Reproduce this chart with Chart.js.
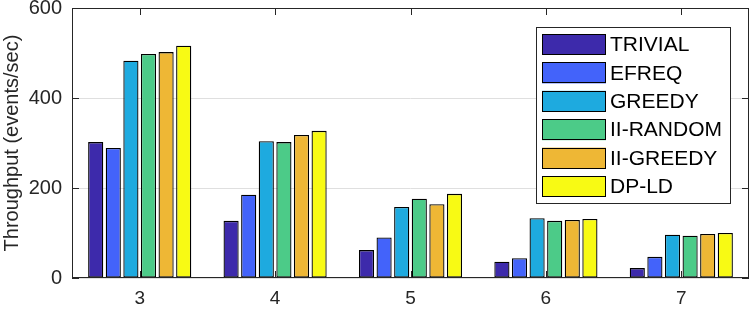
<!DOCTYPE html>
<html>
<head>
<meta charset="utf-8">
<script src="https://cdn.jsdelivr.net/npm/chart.js@4/dist/chart.umd.min.js"></script>
<style>
  html, body { margin: 0; padding: 0; background: #fff; }
  #wrap { width: 751px; height: 310px; }
</style>
</head>
<body>
<div id="wrap"><canvas id="c" width="751" height="310"></canvas></div>
<script>
const categories = ['3', '4', '5', '6', '7'];
const seriesNames = ['TRIVIAL', 'EFREQ', 'GREEDY', 'II-RANDOM', 'II-GREEDY', 'DP-LD'];
const trivial  = [302, 127, 62, 36, 22];
const efreq    = [289, 185, 90, 44, 47];
const greedy   = [483, 304, 158, 133, 96];
const iiRandom = [498, 302, 176, 127, 94];
const iiGreedy = [502, 318, 164, 129, 98];
const dpLd     = [516, 327, 187, 131, 100];
const yTicks = [0, 200, 400, 600];
const colors = ['#3d2aab', '#4363fa', '#1eaadf', '#4ccb88', '#eeb735', '#f8fa14'];

const font = "'Liberation Sans', Arial, sans-serif";
const axisColor = '#262626';

// box, inward ticks and the inside legend, MATLAB style
const framePlugin = {
  id: 'frame',
  afterDatasetsDraw(chart) {
    const { ctx, chartArea: a, scales } = chart;
    ctx.save();
    ctx.strokeStyle = axisColor;
    ctx.lineWidth = 1;
    ctx.strokeRect(a.left + 0.5, a.top + 0.5, a.right - a.left - 1, a.bottom - a.top - 1);
    ctx.beginPath();
    const tl = 7;
    yTicks.forEach(v => {
      const y = Math.round(scales.y.getPixelForValue(v)) + 0.5;
      ctx.moveTo(a.left, y); ctx.lineTo(a.left + tl, y);
      ctx.moveTo(a.right, y); ctx.lineTo(a.right - tl, y);
    });
    categories.forEach((c, i) => {
      const x = Math.round(scales.x.getPixelForValue(i)) + 0.5;
      ctx.moveTo(x, a.bottom); ctx.lineTo(x, a.bottom - tl);
      ctx.moveTo(x, a.top); ctx.lineTo(x, a.top + tl);
    });
    ctx.stroke();

    // legend
    const lx = 536, ly = 27, lw = 194, lh = 176;
    ctx.fillStyle = '#fff';
    ctx.fillRect(lx, ly, lw, lh);
    ctx.strokeStyle = axisColor;
    ctx.strokeRect(lx + 0.5, ly + 0.5, lw, lh);
    ctx.font = '21px ' + font;
    ctx.textBaseline = 'middle';
    chart.data.datasets.forEach((ds, i) => {
      const sy = 34 + i * 28.4;
      ctx.fillStyle = ds.backgroundColor;
      ctx.fillRect(542, sy, 64, 21);
      ctx.strokeStyle = '#000';
      ctx.strokeRect(542.5, Math.round(sy) + 0.5, 63, 20);
      ctx.fillStyle = '#000';
      ctx.fillText(ds.label, 610, sy + 11.5);
    });
    ctx.restore();
  }
};

const seriesData = [trivial, efreq, greedy, iiRandom, iiGreedy, dpLd];

new Chart(document.getElementById('c').getContext('2d'), {
  type: 'bar',
  data: {
    labels: categories,
    datasets: seriesData.map((d, i) => ({
      label: seriesNames[i],
      data: d,
      backgroundColor: colors[i],
      borderColor: '#000',
      borderWidth: 1.3,
      borderSkipped: false,
      categoryPercentage: 0.78,
      barPercentage: 0.86
    }))
  },
  options: {
    responsive: false,
    animation: false,
    layout: { padding: { top: 8, right: 2, left: 0, bottom: 0 } },
    plugins: { legend: { display: false }, tooltip: { enabled: false } },
    scales: {
      x: {
        grid: { display: false, drawTicks: false },
        border: { display: false },
        ticks: { color: axisColor, font: { family: font, size: 19 }, padding: 9 },
        afterFit(s) { s.height = 32; s.paddingLeft = 0; s.paddingRight = 0; }
      },
      y: {
        min: 0, max: 600,
        afterBuildTicks(s) { s.ticks = yTicks.map(v => ({ value: v })); },
        grid: { color: '#dfdfdf', drawTicks: false },
        border: { display: false },
        ticks: { color: axisColor, font: { family: font, size: 20 }, padding: 10 },
        title: { display: true, text: 'Throughput (events/sec)', color: axisColor, font: { family: font, size: 20 }, padding: 0 },
        afterFit(s) { s.width = 72; s.paddingTop = 0; s.paddingBottom = 0; }
      }
    }
  },
  plugins: [framePlugin]
});
</script>
</body>
</html>
